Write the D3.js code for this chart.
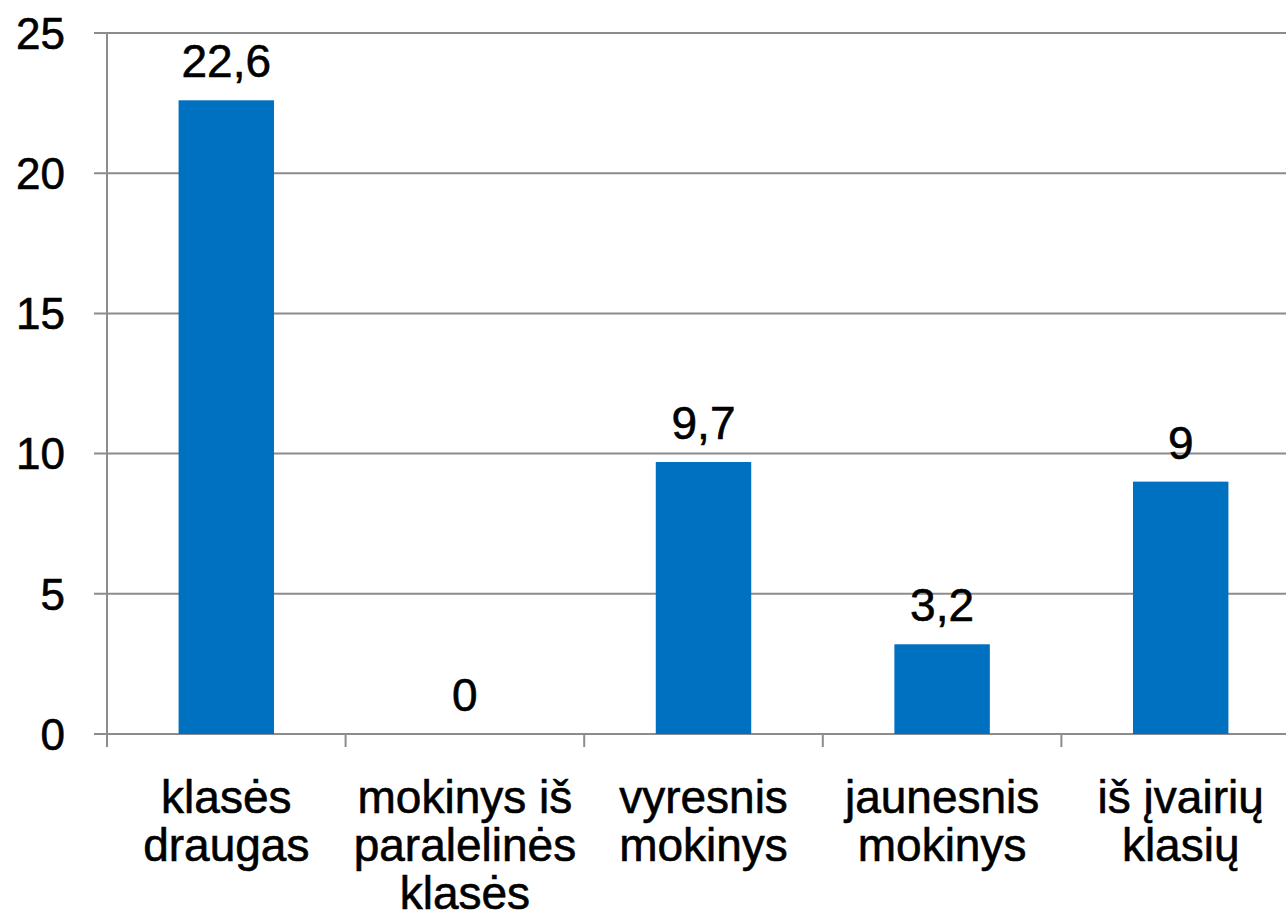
<!DOCTYPE html>
<html>
<head>
<meta charset="utf-8">
<script src="https://cdn.jsdelivr.net/npm/d3@7"></script>
<style>
  html, body { margin: 0; padding: 0; background: #fff; }
  svg { display: block; font-family: "Liberation Sans", Arial, sans-serif; }
  text { stroke: #000; stroke-width: 0.6px; }
</style>
</head>
<body>
<svg id="chart"></svg>
<script>
// data
const categories = [
  "klasės\ndraugas",
  "mokinys iš\nparalelinės\nklasės",
  "vyresnis\nmokinys",
  "jaunesnis\nmokinys",
  "iš įvairių\nklasių"
];
const values = [22.6, 0, 9.7, 3.2, 9];
const yTicks = [0, 5, 10, 15, 20, 25];

const width = 1286, height = 918;
const svg = d3.select("#chart").attr("width", width).attr("height", height);

// plot area (right edge runs past the picture, as in the reference)
const plotLeft = 107, plotRight = 1300, plotTop = 33, plotBottom = 734;
const gridColor = "#8c8c8c";

const x = d3.scaleBand().domain(categories).range([plotLeft, plotRight]).padding(0);
const y = d3.scaleLinear().domain([0, 25]).range([plotBottom, plotTop]);

// gridlines + y ticks
svg.append("g")
  .selectAll("line")
  .data(yTicks)
  .join("line")
  .attr("x1", plotLeft - 13)
  .attr("x2", plotRight)
  .attr("y1", d => y(d))
  .attr("y2", d => y(d))
  .attr("stroke", gridColor)
  .attr("stroke-width", 2);

// y axis line
svg.append("line")
  .attr("x1", plotLeft).attr("x2", plotLeft)
  .attr("y1", plotTop).attr("y2", plotBottom + 13)
  .attr("stroke", gridColor).attr("stroke-width", 2);

// x ticks at the band edges
const edges = categories.map(c => x(c)).concat([plotRight]);
svg.append("g")
  .selectAll("line")
  .data(edges.slice(1))
  .join("line")
  .attr("x1", d => d).attr("x2", d => d)
  .attr("y1", plotBottom).attr("y2", plotBottom + 13)
  .attr("stroke", gridColor).attr("stroke-width", 2);

// y tick labels
svg.append("g")
  .selectAll("text")
  .data(yTicks)
  .join("text")
  .attr("x", 65)
  .attr("y", d => y(d))
  .attr("dy", "0.36em")
  .attr("text-anchor", "end")
  .attr("font-size", 44)
  .attr("fill", "#000")
  .text(d => d);

// bars
const barW = x.bandwidth() * 0.4;
svg.append("g")
  .selectAll("rect")
  .data(values)
  .join("rect")
  .attr("x", (d, i) => x(categories[i]) + (x.bandwidth() - barW) / 2)
  .attr("y", d => y(d))
  .attr("width", barW)
  .attr("height", d => plotBottom - y(d))
  .attr("fill", "#0070c0");

// value labels
svg.append("g")
  .selectAll("text")
  .data(values)
  .join("text")
  .attr("x", (d, i) => x(categories[i]) + x.bandwidth() / 2)
  .attr("y", d => y(d) - 23)
  .attr("text-anchor", "middle")
  .attr("font-size", 46)
  .attr("fill", "#000")
  .text(d => String(d).replace(".", ","));

// category labels, one tspan per line
const catLabels = svg.append("g")
  .selectAll("text")
  .data(categories)
  .join("text")
  .attr("text-anchor", "middle")
  .attr("font-size", 46)
  .attr("fill", "#000")
  .attr("transform", d => `translate(${x(d) + x.bandwidth() / 2},${813})`);

catLabels.selectAll("tspan")
  .data(d => d.split("\n"))
  .join("tspan")
  .attr("x", 0)
  .attr("y", (d, i) => i * 48)
  .text(d => d);
</script>
</body>
</html>
